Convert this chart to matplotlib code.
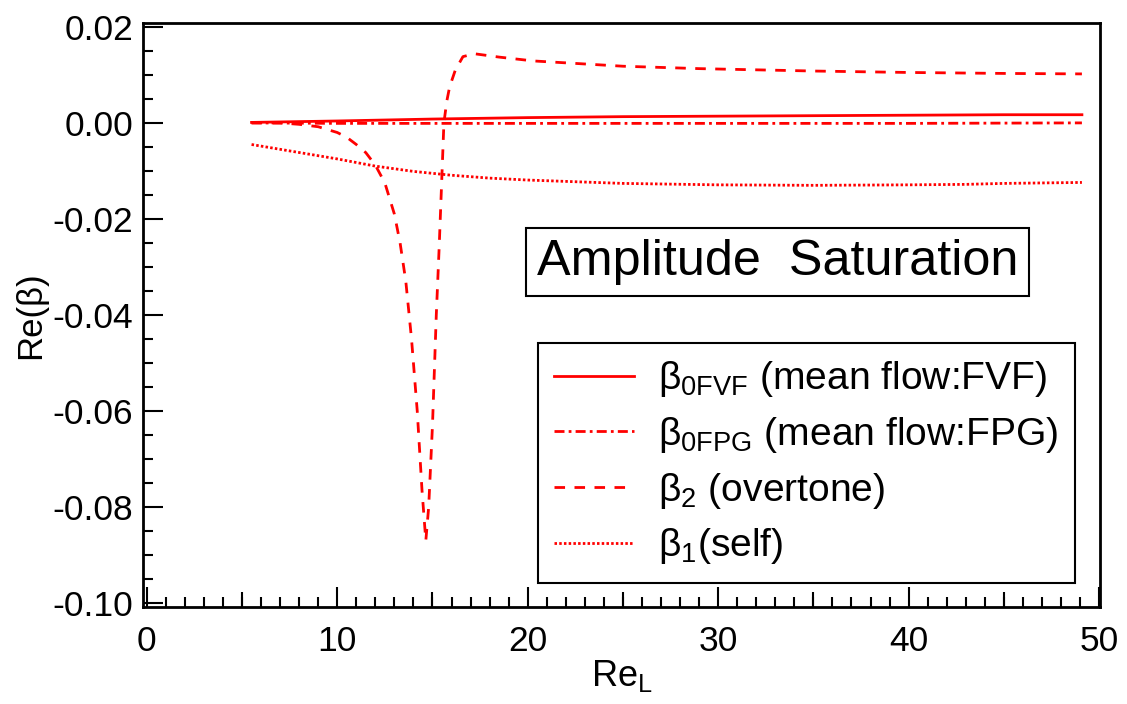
import numpy as np
import matplotlib
matplotlib.use('Agg')
import matplotlib.pyplot as plt
from matplotlib.ticker import MultipleLocator, FuncFormatter, NullLocator

plt.rcParams['font.family'] = ['Liberation Sans', 'DejaVu Sans']
plt.rcParams['mathtext.fontset'] = 'custom'
plt.rcParams['mathtext.rm'] = 'Liberation Sans'
plt.rcParams['mathtext.it'] = 'Liberation Sans:italic'

# beta_0 (mean flow: FVF), solid
x_fvf = [5.5, 10, 15, 20, 25, 30, 35, 40, 45, 49.1]
y_fvf = [0.0001, 0.0004, 0.0008, 0.0011, 0.0013, 0.0014, 0.0015, 0.0016, 0.0017, 0.0017]

# beta_0 (mean flow: FPG), dash-dot
x_fpg = [5.5, 10, 15, 20, 30, 40, 49.1]
y_fpg = [0.0, -0.0001, -0.0001, -0.0001, -0.0001, -0.0001, 0.0]

# beta_2 (overtone), dashed
x_ovt = [5.5, 7, 8, 9, 10, 10.5, 11, 11.5, 12, 12.5, 13, 13.3, 13.6, 13.9, 14.2,
         14.45, 14.65, 14.8, 15.0, 15.2, 15.35, 15.5, 15.6, 15.75, 15.9, 16.2,
         16.6, 17.2, 18.5, 20.3, 25, 29, 35, 40, 45, 49.1]
y_ovt = [0.0, 0.0, -0.0003, -0.0008, -0.002, -0.003, -0.0045, -0.0062, -0.0088,
         -0.0125, -0.019, -0.025, -0.033, -0.045, -0.06, -0.0765, -0.087, -0.08,
         -0.063, -0.04, -0.026, -0.0105, 0.0, 0.0045, 0.0075, 0.011, 0.0138,
         0.0144, 0.0137, 0.0129, 0.0118, 0.0113, 0.0108, 0.0105, 0.0103, 0.0102]

# beta_1 (self), dotted
x_self = [5.5, 7, 8.5, 10, 12, 14, 16, 18, 20, 25, 30, 35, 40, 43, 45, 49.1]
y_self = [-0.0045, -0.0055, -0.0065, -0.0075, -0.009, -0.0101, -0.0109, -0.0115,
          -0.0119, -0.0126, -0.0129, -0.013, -0.0129, -0.0128, -0.0126, -0.0124]

red = '#ff0000'
lw = 2.0

fig = plt.figure(figsize=(11.27, 7.04), dpi=100)
ax = fig.add_axes([143/1127, 97/704, 957/1127, 584/704])

ax.plot(x_fvf, y_fvf, color=red, lw=lw, ls='-',
        label=r'β$_{\mathrm{0FVF}}$ (mean flow:FVF)')
ax.plot(x_fpg, y_fpg, color=red, lw=lw, ls=(0, (3.6, 1.5, 1.0, 1.5)),
        label=r'β$_{\mathrm{0FPG}}$ (mean flow:FPG)')
ax.plot(x_ovt, y_ovt, color=red, lw=lw, ls=(0, (3.8, 3.4)),
        label=r'β$_{\mathrm{2}}$ (overtone)')
ax.plot(x_self, y_self, color=red, lw=lw, ls=(0, (0.9, 0.8)),
        label=r'β$_{\mathrm{1}}$(self)')

ax.set_xlim(-0.2, 50.05)
ax.set_ylim(-0.1008, 0.0208)

ax.xaxis.set_major_locator(MultipleLocator(10))
ax.xaxis.set_minor_locator(MultipleLocator(1))
ax.yaxis.set_major_locator(MultipleLocator(0.02))
ax.yaxis.set_minor_locator(MultipleLocator(0.005))
ax.yaxis.set_major_formatter(FuncFormatter(lambda v, p: '%.2f' % (round(v, 4) + 0.0)))

ax.tick_params(which='both', direction='in', width=1.5, top=False, right=False)
ax.tick_params(which='major', length=14.4, labelsize=25.5)
ax.tick_params(which='minor', length=7.2)
ax.tick_params(axis='x', which='major', pad=13)
ax.tick_params(axis='y', which='major', pad=7)

# medium ticks at the 5s
sec = ax.secondary_xaxis('bottom')
sec.set_xticks([5, 15, 25, 35, 45])
sec.xaxis.set_minor_locator(NullLocator())
sec.tick_params(direction='in', length=10.8, width=1.5, labelbottom=False)

for s in ax.spines.values():
    s.set_linewidth(2.0)

ax.set_xlabel(r'Re$_{\mathrm{L}}$', fontsize=26, labelpad=0)
ax.set_ylabel('Re(β)', fontsize=25, labelpad=4)

ax.text(0.663, 0.591, 'Amplitude  Saturation', transform=ax.transAxes,
        fontsize=36.3, ha='center', va='center',
        bbox=dict(boxstyle='square,pad=0.22', fc='white', ec='black', lw=1.5))

leg = ax.legend(loc='upper left', bbox_to_anchor=(538/1127, 1 - 343/704),
                bbox_transform=fig.transFigure, fontsize=28.1, frameon=True,
                fancybox=False, edgecolor='black', framealpha=1,
                handlelength=2.05, handletextpad=0.6, labelspacing=0.4,
                borderaxespad=0, borderpad=0.42)
leg.get_frame().set_linewidth(1.5)

fig.savefig('out.png', dpi=100)
